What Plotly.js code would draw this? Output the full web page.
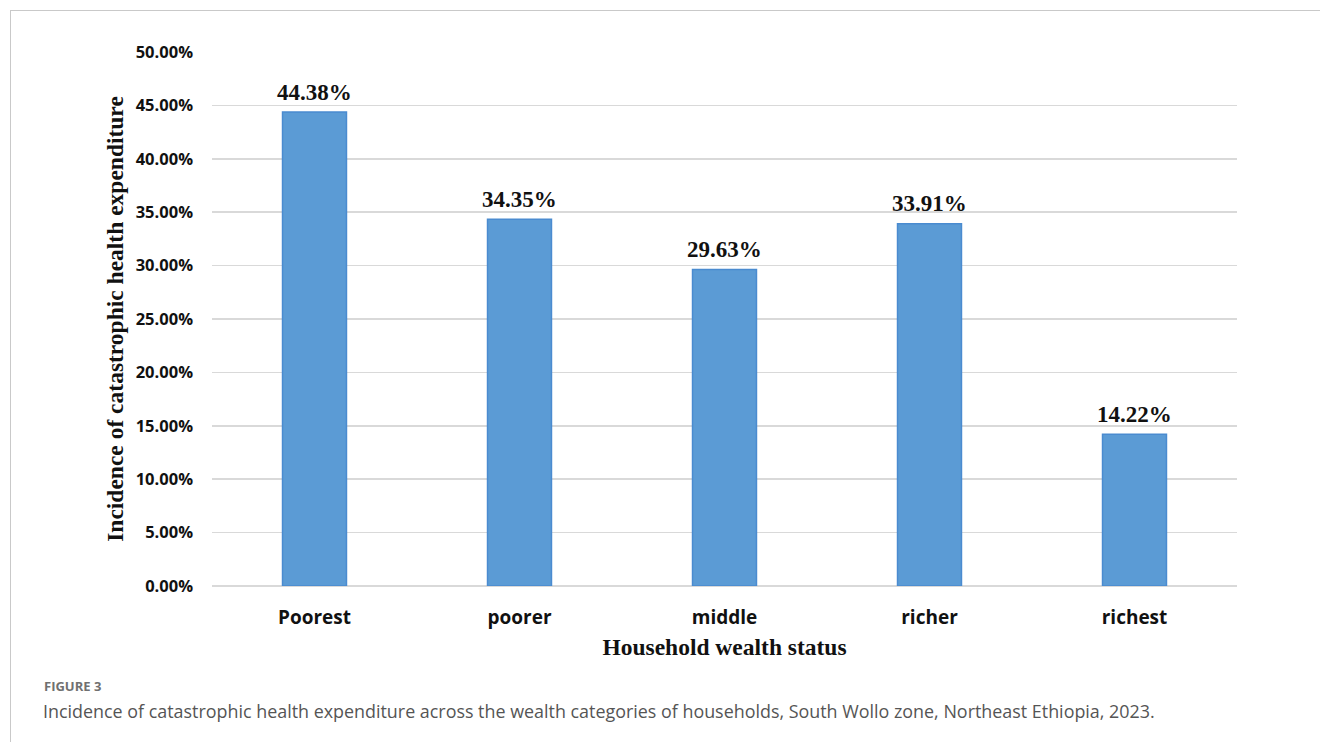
<!DOCTYPE html>
<html>
<head>
<meta charset="utf-8">
<script src="https://cdn.plot.ly/plotly-3.0.1.min.js"></script>
<style>
html,body{margin:0;padding:0;background:#fff;}
#frame{position:absolute;left:10px;top:10px;width:1400px;height:800px;border:1px solid #c9c9c9;}
#chart{position:absolute;left:0;top:0;width:1320px;height:742px;}
</style>
</head>
<body>
<div id="frame"></div>
<div id="chart"></div>
<script>
const categories = ["Poorest", "poorer", "middle", "richer", "richest"];
const incidence = [44.38, 34.35, 29.63, 33.91, 14.22];
const yTickVals = [0, 5, 10, 15, 20, 25, 30, 35, 40, 45, 50];
const yTickText = ["0.00%", "5.00%", "10.00%", "15.00%", "20.00%", "25.00%", "30.00%", "35.00%", "40.00%", "45.00%", "50.00%"];
const barLabels = incidence.map(v => v.toFixed(2) + "%");

const W = 1320, H = 742;
const L = 212, R = 83, T = 52, B = 156;
const pw = W - L - R, ph = H - T - B;
function px(x) { return (x - L) / pw; }
function py(y) { return (H - B - y) / ph; }

const trace = {
  type: "bar",
  x: categories,
  y: incidence,
  marker: {color: "#5B9BD5", line: {color: "#4A8BD0", width: 1.5}},
  hoverinfo: "skip"
};

const labelAnns = categories.map((c, i) => ({
  xref: "x", yref: "y", x: c, y: incidence[i],
  xanchor: "center", yanchor: "middle", yshift: 20, showarrow: false,
  text: "<b>" + barLabels[i] + "</b>",
  font: {family: "Liberation Serif, Times New Roman, serif", size: 23, color: "#111"}
}));

const layout = {
  width: W, height: H,
  margin: {l: L, r: R, t: T, b: B},
  paper_bgcolor: "rgba(0,0,0,0)",
  plot_bgcolor: "rgba(0,0,0,0)",
  showlegend: false,
  bargap: 0.688,
  font: {family: "Open Sans, sans-serif"},
  xaxis: {
    type: "category",
    tickfont: {family: "Open Sans, sans-serif", size: 19, color: "#111", weight: "bold"},
    ticks: "",
    ticklabelstandoff: 18,
    showline: false,
    title: {text: "<b>Household wealth status</b>", font: {family: "Liberation Serif, Times New Roman, serif", size: 23.5, color: "#111"}, standoff: 9}
  },
  yaxis: {
    range: [0, 50],
    tickvals: yTickVals,
    ticktext: yTickText,
    tickfont: {family: "Open Sans, sans-serif", size: 16.5, color: "#111", weight: "bold"},
    ticks: "",
    ticklabelstandoff: 18,
    showgrid: true,
    gridcolor: "#d9d9d9",
    gridwidth: 1.5,
    zeroline: true,
    zerolinecolor: "#d9d9d9",
    zerolinewidth: 1.5,
    title: {text: "<b>Incidence of catastrophic health expenditure</b>", font: {family: "Liberation Serif, Times New Roman, serif", size: 23.5, color: "#111"}, standoff: 5}
  },
  annotations: labelAnns.concat([
    {xref: "paper", yref: "paper", x: px(42), y: py(686), xanchor: "left", yanchor: "middle", showarrow: false,
     text: "<b>FIGURE 3</b>", font: {family: "Open Sans, sans-serif", size: 13, color: "#707070"}},
    {xref: "paper", yref: "paper", x: px(41), y: py(711), xanchor: "left", yanchor: "middle", showarrow: false,
     text: "Incidence of catastrophic health expenditure across the wealth categories of households, South Wollo zone, Northeast Ethiopia, 2023.",
     font: {family: "Open Sans, sans-serif", size: 17.9, color: "#555"}}
  ])
};

Plotly.newPlot("chart", [trace], layout, {displayModeBar: false, staticPlot: true});
</script>
</body>
</html>
